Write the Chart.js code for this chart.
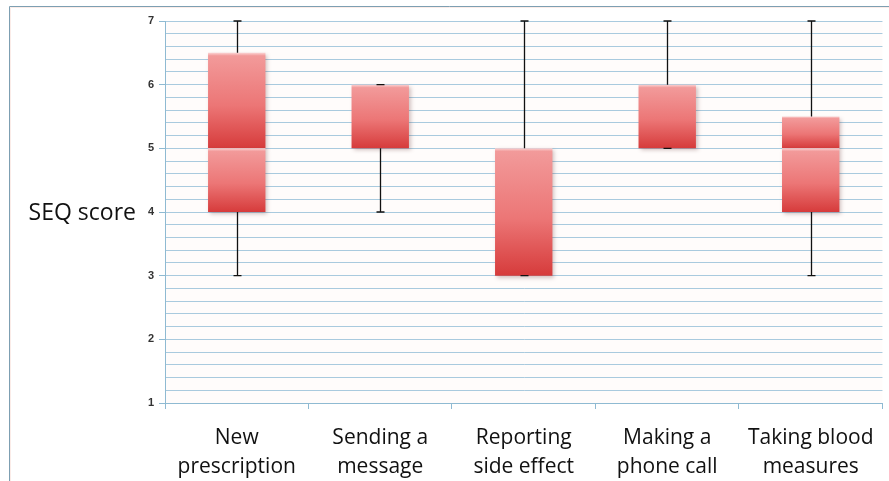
<!DOCTYPE html>
<html>
<head>
<meta charset="utf-8">
<script src="https://cdn.jsdelivr.net/npm/chart.js@4.4.1/dist/chart.umd.min.js"></script>
<style>
  html, body { margin: 0; padding: 0; background: #ffffff; }
  #wrap { width: 889px; height: 481px; position: relative; }
</style>
</head>
<body>
<div id="wrap"><canvas id="c" width="889" height="481"></canvas></div>
<script>
// ---- Data ----
const categories = [
  ['New', 'prescription'],
  ['Sending a', 'message'],
  ['Reporting', 'side effect'],
  ['Making a', 'phone call'],
  ['Taking blood', 'measures']
];
const minValues    = [3, 4, 3, 5, 3];
const q1Values     = [4, 5, 3, 5, 4];
const medianValues = [5, 5, 3, 5, 5];
const q3Values     = [6.5, 6, 5, 6, 5.5];
const maxValues    = [7, 6, 7, 7, 7];
const yAxisTitle = 'SEQ score';
const yMin = 1, yMax = 7, yStep = 0.2;

// ---- Derived chart tables ----
const lowerBox = q1Values.map((q1, i) => [q1, medianValues[i]]);
const upperBox = medianValues.map((m, i) => [m, q3Values[i]]);

function boxGradient(context) {
  const chart = context.chart;
  const y = chart.scales.y;
  const raw = context.raw;
  if (!y || !raw || !chart.chartArea) return '#e25a5a';
  const top = y.getPixelForValue(Math.max(raw[0], raw[1]));
  const bot = y.getPixelForValue(Math.min(raw[0], raw[1]));
  if (!isFinite(top) || !isFinite(bot) || bot - top < 1) return '#e25a5a';
  const g = chart.ctx.createLinearGradient(0, top, 0, bot);
  g.addColorStop(0, '#fbd3d3');
  g.addColorStop(Math.min(0.06, 3 / (bot - top)), '#f29a9a');
  g.addColorStop(0.55, '#ec7676');
  g.addColorStop(1, '#d63b3b');
  return g;
}

const frameAndTitle = {
  id: 'frameAndTitle',
  beforeDraw(chart) {
    const { ctx, chartArea } = chart;
    ctx.save();
    ctx.fillStyle = '#fffcfb';
    ctx.fillRect(chartArea.left, chartArea.top, chartArea.right - chartArea.left, chartArea.bottom - chartArea.top);
    ctx.strokeStyle = '#fbece8';
    ctx.lineWidth = 1;
    ctx.beginPath();
    ctx.moveTo(10.5, chart.height);
    ctx.lineTo(10.5, 7.5);
    ctx.lineTo(chart.width, 7.5);
    ctx.stroke();
    ctx.strokeStyle = '#7d9fb2';
    ctx.beginPath();
    ctx.moveTo(9.5, chart.height);
    ctx.lineTo(9.5, 6.5);
    ctx.lineTo(chart.width, 6.5);
    ctx.stroke();
    ctx.restore();
  },
  beforeDatasetDraw(chart) {
    const ctx = chart.ctx;
    ctx.save();
    ctx.shadowColor = 'rgba(90,40,40,0.28)';
    ctx.shadowBlur = 4;
    ctx.shadowOffsetX = 2;
    ctx.shadowOffsetY = 2;
  },
  afterDatasetDraw(chart) {
    chart.ctx.restore();
  },
  afterDatasetsDraw(chart) {
    const { ctx } = chart;
    const x = chart.scales.x, y = chart.scales.y;
    ctx.save();
    ctx.strokeStyle = '#111111';
    ctx.lineWidth = 1.3;
    const cap = 4;
    categories.forEach((c, i) => {
      const cx = Math.round(x.getPixelForValue(i)) + 0.5;
      const yMaxP = y.getPixelForValue(maxValues[i]);
      const yQ3 = y.getPixelForValue(q3Values[i]);
      const yMinP = y.getPixelForValue(minValues[i]);
      const yQ1 = y.getPixelForValue(q1Values[i]);
      ctx.beginPath();
      ctx.moveTo(cx, yQ3); ctx.lineTo(cx, yMaxP);
      ctx.moveTo(cx - cap, yMaxP); ctx.lineTo(cx + cap, yMaxP);
      ctx.moveTo(cx, yQ1); ctx.lineTo(cx, yMinP);
      ctx.moveTo(cx - cap, yMinP); ctx.lineTo(cx + cap, yMinP);
      ctx.stroke();
    });
    ctx.restore();
  },
  afterDraw(chart) {
    const { ctx, chartArea } = chart;
    const y = chart.scales.y;
    ctx.save();
    ctx.fillStyle = '#111111';
    ctx.font = '23px "Open Sans", sans-serif';
    ctx.textAlign = 'right';
    ctx.textBaseline = 'middle';
    ctx.fillText(yAxisTitle, chartArea.left - 29, y.getPixelForValue(4) + 1);
    ctx.restore();
  }
};

const isMajor = v => Math.abs(v - Math.round(v)) < 1e-6;

new Chart(document.getElementById('c'), {
  type: 'bar',
  data: {
    labels: categories,
    datasets: [
      { label: 'Q1-Median', data: lowerBox, backgroundColor: boxGradient,
        borderWidth: 0, grouped: false, barPercentage: 0.4, categoryPercentage: 1 },
      { label: 'Median-Q3', data: upperBox, backgroundColor: boxGradient,
        borderWidth: 0, grouped: false, barPercentage: 0.4, categoryPercentage: 1 }
    ]
  },
  options: {
    responsive: false,
    animation: false,
    devicePixelRatio: 1,
    layout: { padding: { top: 21, right: 5, left: 0, bottom: 0 } },
    plugins: { legend: { display: false }, tooltip: { enabled: false }, title: { display: false } },
    scales: {
      x: {
        offset: true,
        grid: { offset: true, drawOnChartArea: false, color: '#8fbad2', tickLength: 6, tickColor: '#8fbad2' },
        border: { color: '#8fbad2', width: 1 },
        ticks: { color: '#111111', padding: 15, maxRotation: 0, autoSkip: false,
                 font: { family: '"Open Sans", sans-serif', size: 21, lineHeight: 1.36 } },
        afterFit(scale) { scale.height = 78; }
      },
      y: {
        min: yMin, max: yMax,
        ticks: { stepSize: yStep, autoSkip: false, padding: 5, color: '#333333',
                 font: { family: '"Liberation Sans", Arial, sans-serif', size: 11, weight: 'bold' },
                 callback: v => isMajor(v) ? String(Math.round(v)) : '' },
        grid: { color: '#a9cade', lineWidth: 1, tickLength: 6,
                tickColor: ctx => (ctx.tick && isMajor(ctx.tick.value)) ? '#8fbad2' : 'rgba(0,0,0,0)' },
        border: { color: '#8fbad2', width: 1 },
        afterFit(scale) { scale.width = 165; }
      }
    }
  },
  plugins: [frameAndTitle]
});
</script>
</body>
</html>
